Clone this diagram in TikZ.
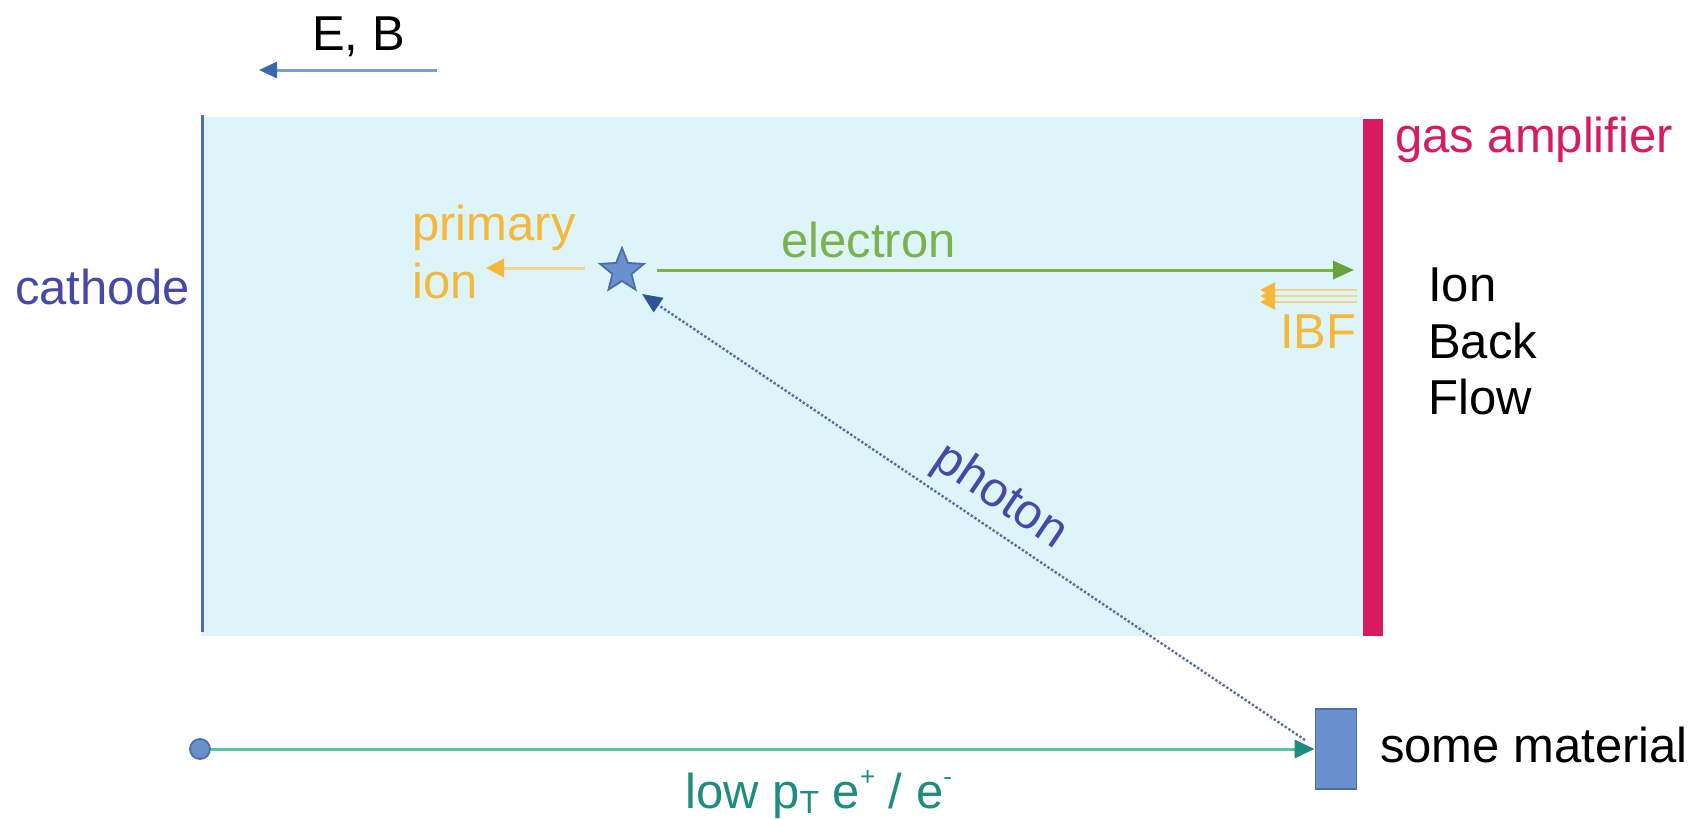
\documentclass[tikz,border=0pt]{standalone}
\usepackage{fontspec}
\setmainfont{Liberation Sans}
\usetikzlibrary{arrows.meta,shapes.geometric}
\definecolor{cyanbg}{HTML}{DDF5F9}
\definecolor{amp}{HTML}{D81B60}
\definecolor{indig}{HTML}{4848A8}
\definecolor{catl}{HTML}{4A6FB5}
\definecolor{elgreen}{HTML}{7AB24C}
\definecolor{elhead}{HTML}{68A23A}
\definecolor{ionor}{HTML}{F5B83A}
\definecolor{ionline}{HTML}{F2D48E}
\definecolor{teal}{HTML}{1E8C7E}
\definecolor{tealline}{HTML}{5CBFA6}
\definecolor{starfill}{HTML}{6A90D0}
\definecolor{starline}{HTML}{4A6FA8}
\definecolor{ebline}{HTML}{7F9CCF}
\definecolor{ebhead}{HTML}{3A66AE}
\definecolor{photl}{HTML}{5A6E9E}
\definecolor{phothead}{HTML}{2F5597}
\tikzset{
  lbl/.style={inner sep=0pt, anchor=base west, font=\fontsize{49}{57}\selectfont},
}
\begin{document}
\begin{tikzpicture}[x=1pt,y=-1pt]
\useasboundingbox (0,0) rectangle (1700,819);
% chamber
\fill[cyanbg] (201,117) rectangle (1364,636);
\draw[catl, line width=3pt] (202,115) -- (202,632);
\fill[amp] (1363,119) rectangle (1383,636);
% texts
\node[lbl, text=black] (eb) at (312,50) {E, B};
\node[lbl, text=amp] (gas) at (1395,152) {gas amplifier};
\node[lbl, text=indig] (cath) at (15,304) {cathode};
\node[lbl, text=ionor] (prim) at (412,240) {primary};
\node[lbl, text=ionor] (ion) at (412,298) {ion};
\node[lbl, text=elgreen] (elec) at (781,257) {electron};
\node[lbl, text=ionor] (ibf) at (1280,348) {IBF};
\node[lbl, text=black] (ion1) at (1428,301) {Ion};
\node[lbl, text=black] (ion2) at (1428,358) {Back};
\node[lbl, text=black] (ion3) at (1428,414) {Flow};
\node[lbl, text=black] (mattxt) at (1380,762) {some material};
\node[lbl, text=teal] (lowpt) at (685,808) {low p\raisebox{-0.12em}{\fontsize{32}{32}\selectfont T} e\raisebox{0.45em}{\fontsize{26}{26}\selectfont +} / e\raisebox{0.45em}{\fontsize{26}{26}\selectfont -}};
\node[inner sep=0pt, text=indig, font=\fontsize{49}{57}\selectfont, rotate=-34] (phot) at (1000,497) {photon};
% E,B arrow
\coordinate (ebs) at (437,70);
\coordinate (ebe) at (259,70);
\draw[ebline, line width=3pt, -{Triangle[length=18pt,width=16pt,color=ebhead]}] (ebs) -- (ebe);
% star
\node[star, star points=5, star point ratio=2.3, minimum size=46pt, inner sep=0pt, fill=starfill, draw=starline, line width=1.8pt] (star) at (622,271) {};
% electron arrow
\coordinate (els) at (657,270);
\coordinate (ele) at (1354,270);
\draw[elgreen, line width=3pt, -{Triangle[length=21pt,width=18pt,color=elhead]}] (els) -- (ele);
% primary ion arrow
\coordinate (ios) at (585,268);
\coordinate (ioe) at (486,268);
\draw[ionline, line width=3pt, -{Triangle[length=18pt,width=18pt,color=ionor]}] (ios) -- (ioe);
% IBF arrows
\foreach \yy in {290,296,302} {
  \draw[ionline, line width=2.5pt, -{Triangle[length=15pt,width=15pt,color=ionor]}] (1357,\yy) -- (1260,\yy);
}
% material
\node[draw=starline, fill=starfill, line width=1.8pt, minimum width=41pt, minimum height=80pt, inner sep=0pt] (mat) at (1336,749) {};
% low pT track
\node[circle, fill=starfill, draw=starline, line width=1.8pt, minimum size=20pt, inner sep=0pt] (dot) at (200,749) {};
\draw[tealline, line width=3pt, -{Triangle[length=20pt,width=18pt,color=teal]}] (dot) -- (mat.west);
% photon
\coordinate (phs) at (1305,740);
\coordinate (phe) at (642,294);
\draw[photl, line width=2.4pt, dotted, -{Triangle[length=20pt,width=17pt,color=phothead]}] (phs) -- (phe);
\end{tikzpicture}
\end{document}
